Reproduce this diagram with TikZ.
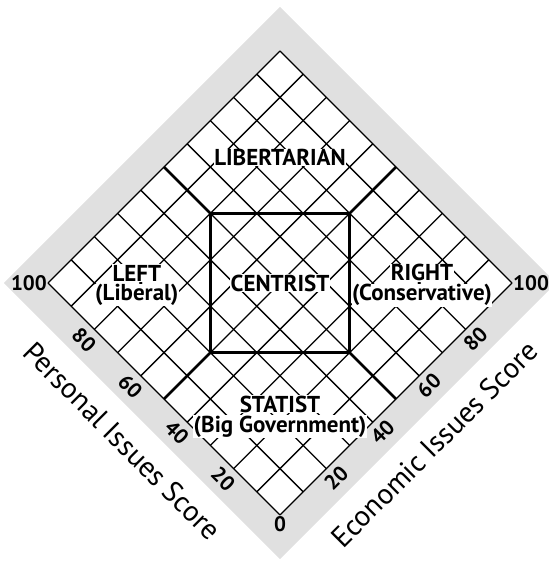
\documentclass[tikz,border=0pt]{standalone}
\usepackage{fontspec}
\setmainfont{PT Sans}
\usepackage{tikz}
\usetikzlibrary{positioning}
\definecolor{bandgray}{HTML}{E0E0E0}

\begin{document}
\begin{tikzpicture}[
  every node/.style={inner sep=1pt},
  chart/.style={shift={(280pt,46pt)}, x={(23.2pt,23.2pt)}, y={(-23.2pt,23.2pt)}},
  gridline/.style={line width=1.3pt, black},
  divider/.style={line width=2.7pt, black},
  square/.style={line width=2.4pt, black, line join=miter},
  region/.style={font=\fontsize{23}{25}\selectfont\bfseries, fill=white, inner sep=0.5pt},
  tick/.style={font=\fontsize{21}{22}\selectfont\bfseries},
  axistitle/.style={font=\fontsize{29}{31}\selectfont},
]
\useasboundingbox (0pt,0pt) rectangle (548pt,561pt);

\begin{scope}[chart]
% grey band and white chart
\fill[bandgray] (-0.95,-0.95) -- (10.95,-0.95) -- (10.95,10.95) -- (-0.95,10.95) -- cycle;
\fill[white] (0,0) -- (10,0) -- (10,10) -- (0,10) -- cycle;

% grid, 10 x 10
\foreach \i in {0,...,10} {
  \draw[gridline] (\i,0) -- (\i,10);
  \draw[gridline] (0,\i) -- (10,\i);
}

% centrist square and region dividers
\draw[square] (2,5) -- (5,2) -- (8,5) -- (5,8) -- cycle;
\draw[divider] (5,8) -- (5,10);
\draw[divider] (8,5) -- (10,5);
\draw[divider] (5,2) -- (5,0);
\draw[divider] (2,5) -- (0,5);

% region labels
\node[region] (libertarian) at (7.7,7.7) {LIBERTARIAN};
\node[region] (centrist) at (5,5) {CENTRIST};
\node[region] (left) at (2.13,8.3) {LEFT};
\node[region, below=2pt of left] (liberal) {(Liberal)};
\node[region] (right) at (8.28,2.16) {RIGHT};
\node[region, below=2pt of right] (conservative) {(Conservative)};
\node[region] (statist) at (2.39,2.39) {STATIST};
\node[region, below=2pt of statist] (biggov) {(Big Government)};

% scores along the edges
\foreach \s/\n in {2/20,4/40,6/60,8/80} {
  \node[tick, rotate=-45] (pers\n) at (-0.45,\s) {\n};
  \node[tick, rotate=45] (econ\n) at (\s,-0.42) {\n};
}
\node[tick, anchor=east] (pers100) at (0,10) {100};
\node[tick, anchor=west] (econ100) at (10,0) {100};
\node[tick, anchor=north] (zero) at (0,0) {0};

% axis titles
\node[axistitle, rotate=-45] (personal) at (-1.8,5) {Personal Issues Score};
\node[axistitle, rotate=45] (economic) at (4.85,-1.8) {Economic Issues Score};
\end{scope}

\end{tikzpicture}
\end{document}
